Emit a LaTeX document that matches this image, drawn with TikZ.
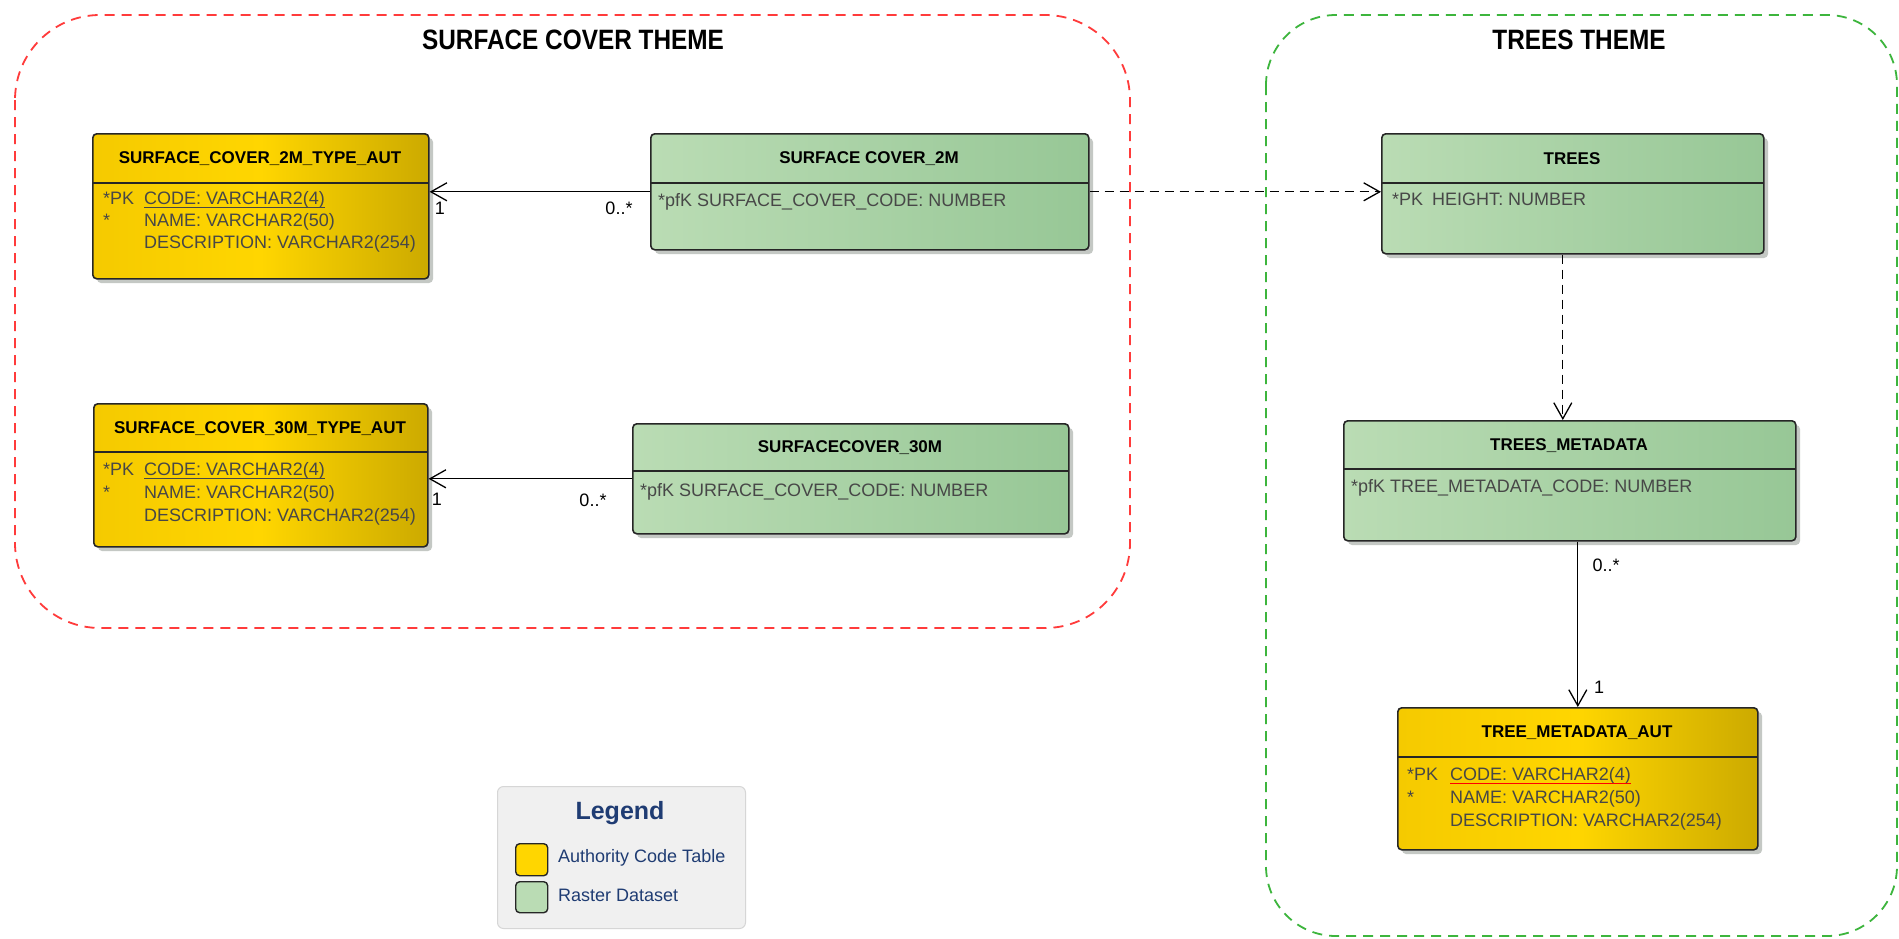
\documentclass[tikz,border=0pt]{standalone}
\usepackage{fontspec}
\setmainfont{Liberation Sans}
\newfontfamily\themeface[FakeStretch=0.87]{Liberation Sans Bold}
\usetikzlibrary{arrows.meta}
\definecolor{boxline}{HTML}{262626}
\definecolor{rowc}{HTML}{474747}
\definecolor{shadowc}{HTML}{C4C8C4}
\definecolor{yelL}{HTML}{F5CA00}
\definecolor{yelM}{HTML}{FFD600}
\definecolor{yelR}{HTML}{CCAA00}
\definecolor{grnL}{HTML}{BADCB4}
\definecolor{grnR}{HTML}{97C796}
\definecolor{redtheme}{HTML}{FF3B3B}
\definecolor{grntheme}{HTML}{3DB53D}
\definecolor{legblue}{HTML}{1F3C73}
\definecolor{legfill}{HTML}{F0F0F0}
\definecolor{legline}{HTML}{D6D6D6}
\newcommand\entrowfont{\fontsize{18}{21}\selectfont}
\newcommand\enttitlefont{\fontsize{17}{20}\selectfont\bfseries}
\tikzset{
  yelbox/.style={left color=yelL, right color=yelR, middle color=yelM},
  grnbox/.style={left color=grnL, right color=grnR},
  entity/.style={draw=boxline, line width=1.6pt, rounded corners=4pt, inner sep=0pt, anchor=north west},
  rowtxt/.style={anchor=west, inner sep=0pt, font=\entrowfont, text=rowc, text height=13pt, text depth=3.7pt},
  ttltxt/.style={inner sep=0pt, font=\enttitlefont, text=black},
  rel/.style={draw=black, line width=1.3pt, -{Straight Barb[length=16pt,width=18pt,line width=1.3pt]}},
  dep/.style={rel, dash pattern=on 9pt off 6pt},
  mult/.style={inner sep=0pt, font=\entrowfont, text=black},
  theme/.style={line width=1.8pt, dash pattern=on 10pt off 7pt},
  themetxt/.style={inner sep=0pt, font=\themeface\fontsize{28}{32}\selectfont, text=black},
}
\newcommand\entbox[8]{%
  \fill[shadowc, rounded corners=4pt] (#2+5,#3+5) rectangle (#4+5,#5+5);
  \node[entity, #7, minimum width=#4-#2, minimum height=#5-#3] (#1) at (#2,#3) {};
  \draw[boxline, line width=1.4pt] (#2,#6) -- (#4,#6);
  \node[ttltxt] (#1-t) at ({(#2+#4)/2},{(#3+#6)/2+1}) {#8};
}
\begin{document}
\begin{tikzpicture}[x=1pt,y=-1pt]
\useasboundingbox[fill=white] (0,0) rectangle (1899,938);

% theme frames
\draw[theme, redtheme, rounded corners=85pt] (15,15) rectangle (1130,628);
\node[themetxt] (th1) at (573,40) {SURFACE COVER THEME};
\draw[theme, grntheme, rounded corners=70pt] (1266,15) rectangle (1897,936);
\node[themetxt] (th2) at (1579,40) {TREES THEME};

% SURFACE_COVER_2M_TYPE_AUT
\entbox{y1}{92}{133}{428}{278}{183}{yelbox}{SURFACE\_COVER\_2M\_TYPE\_AUT}
\node[rowtxt] (y1pk) at (103,200) {*PK};
\node[rowtxt] (y1c) at (144,200) {CODE: VARCHAR2(4)};
\node[rowtxt] (y1s) at (103,222) {*};
\node[rowtxt] (y1n) at (144,222) {NAME: VARCHAR2(50)};
\node[rowtxt] (y1d) at (144,244) {DESCRIPTION: VARCHAR2(254)};
\draw[rowc, line width=1pt] ([yshift=1pt]y1c.south west) -- ([yshift=1pt]y1c.south east);

% SURFACE_COVER_30M_TYPE_AUT
\entbox{y2}{93}{403}{427}{546}{452}{yelbox}{SURFACE\_COVER\_30M\_TYPE\_AUT}
\node[rowtxt] (y2pk) at (103,471) {*PK};
\node[rowtxt] (y2c) at (144,471) {CODE: VARCHAR2(4)};
\node[rowtxt] (y2s) at (103,494) {*};
\node[rowtxt] (y2n) at (144,494) {NAME: VARCHAR2(50)};
\node[rowtxt] (y2d) at (144,517) {DESCRIPTION: VARCHAR2(254)};
\draw[rowc, line width=1pt] ([yshift=1pt]y2c.south west) -- ([yshift=1pt]y2c.south east);

% SURFACE COVER_2M
\entbox{g1}{650}{133}{1088}{249}{183}{grnbox}{SURFACE COVER\_2M}
\node[rowtxt] (g1r) at (658,202) {*pfK SURFACE\_COVER\_CODE: NUMBER};

% SURFACECOVER_30M
\entbox{g2}{632}{423}{1068}{533}{471}{grnbox}{SURFACECOVER\_30M}
\node[rowtxt] (g2r) at (640,492) {*pfK SURFACE\_COVER\_CODE: NUMBER};

% TREES
\entbox{tr}{1381}{133}{1763}{253}{183}{grnbox}{TREES}
\node[rowtxt] (trr) at (1392,201) {*PK\hspace{9pt}HEIGHT: NUMBER};

% TREES_METADATA
\entbox{tm}{1343}{420}{1795}{540}{469}{grnbox}{TREES\_METADATA}
\node[rowtxt] (tmr) at (1351,488) {*pfK TREE\_METADATA\_CODE: NUMBER};

% TREE_METADATA_AUT
\entbox{ta}{1397}{707}{1757}{849}{757}{yelbox}{TREE\_METADATA\_AUT}
\node[rowtxt] (tapk) at (1407,776) {*PK};
\node[rowtxt] (tac) at (1450,776) {CODE: VARCHAR2(4)};
\node[rowtxt] (tas) at (1407,799) {*};
\node[rowtxt] (tan) at (1450,799) {NAME: VARCHAR2(50)};
\node[rowtxt] (tad) at (1450,822) {DESCRIPTION: VARCHAR2(254)};
\draw[red, line width=1.3pt] ([yshift=1pt]tac.south west) -- ([yshift=1pt]tac.south east);

% connectors
\draw[rel] (g1.west) -- (g1.west -| y1.east);
\node[mult] (m1a) at (440,208) {1};
\node[mult] (m1b) at (619,208) {0..*};
\draw[rel] (g2.west) -- (g2.west -| y2.east);
\node[mult] (m2a) at (437,499) {1};
\node[mult] (m2b) at (593,500) {0..*};
\draw[dep] (g1.east) -- (g1.east -| tr.west);
\coordinate (trb) at ([xshift=-10pt]tr.south);
\draw[dep] (trb) -- (trb |- tm.north);
\draw[rel] (ta.north |- tm.south) -- (ta.north);
\node[mult] (m3a) at (1606,565) {0..*};
\node[mult] (m3b) at (1599,687) {1};

% legend
\node[draw=legline, fill=legfill, rounded corners=6pt, line width=1pt, minimum width=248, minimum height=142, anchor=north west, inner sep=0pt] (leg) at (497,786) {};
\node[font=\fontsize{25}{28}\selectfont\bfseries, text=legblue, inner sep=0pt] (legt) at (620,813) {Legend};
\node[draw=boxline, fill=yelM, rounded corners=4pt, line width=1.4pt, minimum width=32, minimum height=32, anchor=north west, inner sep=0pt] (ls1) at (515,843) {};
\node[draw=boxline, fill=grnL, rounded corners=4pt, line width=1.4pt, minimum width=32, minimum height=31, anchor=north west, inner sep=0pt] (ls2) at (515,881) {};
\node[anchor=west, font=\fontsize{18}{21}\selectfont, text=legblue, inner sep=0pt] (lt1) at (558,858) {Authority Code Table};
\node[anchor=west, font=\fontsize{18}{21}\selectfont, text=legblue, inner sep=0pt] (lt2) at (558,895) {Raster Dataset};
\end{tikzpicture}
\end{document}
